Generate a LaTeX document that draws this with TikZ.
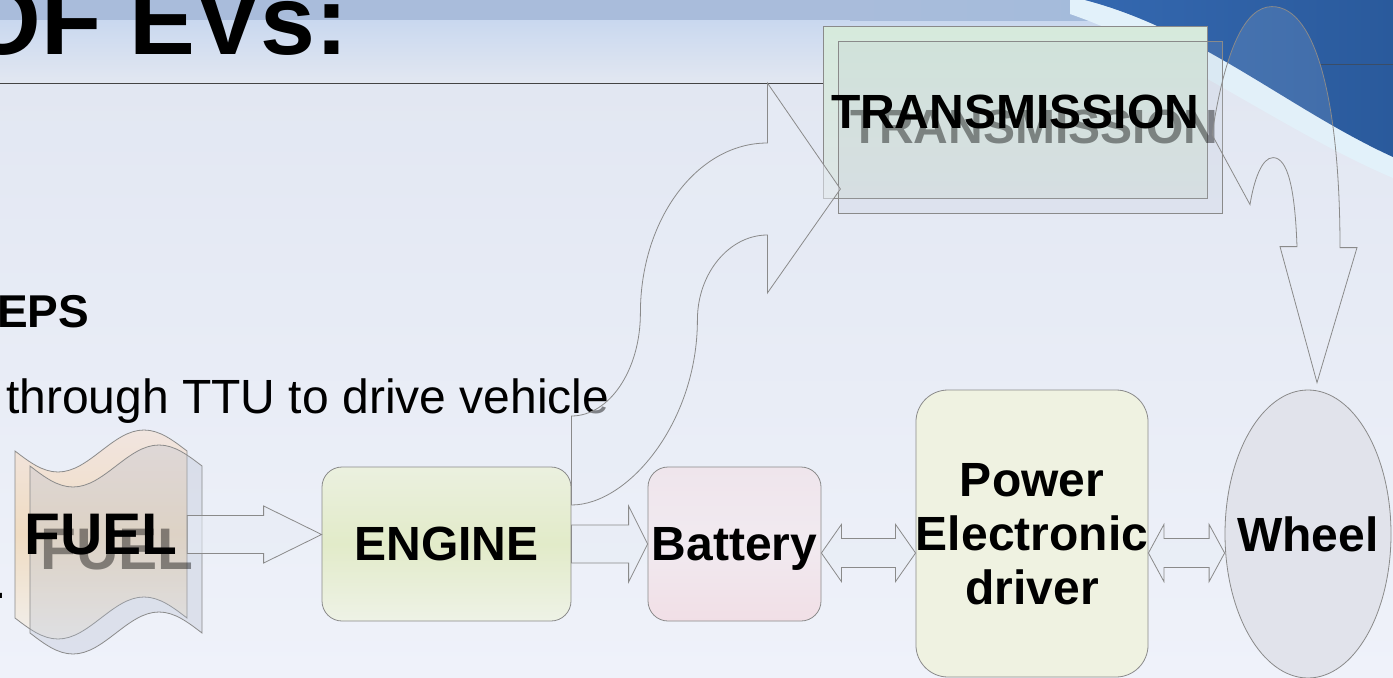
\documentclass[tikz,border=0pt]{standalone}
\usepackage{fontspec}
\setmainfont{Liberation Sans}
\usetikzlibrary{calc,shapes.geometric}

\definecolor{linegray}{HTML}{8A8A8A}
\definecolor{flowfill}{HTML}{E8EDF6}
\definecolor{bandblue}{HTML}{A9BCDB}
\definecolor{headtop}{HTML}{C9D8EF}
\definecolor{headbottom}{HTML}{E2E7F1}
\definecolor{bgtop}{HTML}{E2E7F2}
\definecolor{bgbottom}{HTML}{EFF2FA}
\definecolor{swoosh}{HTML}{2A5A9C}
\definecolor{swooshlight}{HTML}{3468B0}
\definecolor{glow}{HTML}{E2F1FA}
\definecolor{rulegray}{HTML}{444444}
\definecolor{copyfill}{HTML}{B3BCCD}
\definecolor{fueltop}{HTML}{F1E5E0}
\definecolor{fuelmid}{HTML}{F0DCC2}
\definecolor{fuelbottom}{HTML}{F1EFEC}
\definecolor{enginetop}{HTML}{EBF0DF}
\definecolor{enginemid}{HTML}{E2EBC9}
\definecolor{enginebottom}{HTML}{EEF2E6}
\definecolor{batterytop}{HTML}{EFE5EC}
\definecolor{batterymid}{HTML}{F1EAF0}
\definecolor{batterybottom}{HTML}{F1DFE6}
\definecolor{powerfill}{HTML}{EFF2E1}
\definecolor{wheelfill}{HTML}{E1E3EB}
\definecolor{transtop}{HTML}{D6EADC}
\definecolor{transbottom}{HTML}{DDE5E6}

\tikzset{
    box/.style={draw=linegray, line width=0.6pt, rounded corners=15pt, align=center,
        inner sep=0pt, text depth=0pt, font=\bfseries\fontsize{36}{40.5}\selectfont},
    transbox/.style={draw=linegray, line width=0.6pt, inner sep=0pt,
        minimum width=288pt, minimum height=129pt},
    copybox/.style={transbox, fill=copyfill, fill opacity=0.15},
    boxtext/.style={inner sep=0pt, font=\bfseries\fontsize{36}{40.5}\selectfont},
    fueltext/.style={inner sep=0pt, font=\bfseries\fontsize{44}{50}\selectfont},
    shadetext/.style={text opacity=0.42},
    slidetext/.style={inner sep=0pt, font=\fontsize{36}{43}\selectfont},
    fueltape/.style={draw=linegray, line width=0.6pt, top color=fueltop,
        bottom color=fuelbottom, middle color=fuelmid},
    fuelcopy/.style={draw=linegray, line width=0.6pt, fill=copyfill, fill opacity=0.3},
    flow/.style={draw=linegray, line width=0.6pt, fill=flowfill, fill opacity=0.55},
    blockarrow/.style n args={3}{to path={
        let \p1=(\tikztostart), \p2=(\tikztotarget) in
        (\x1,\y1+#1) -- (\x2-#3,\y1+#1) -- (\x2-#3,\y1+#2) -- (\x2,\y1)
        -- (\x2-#3,\y1-#2) -- (\x2-#3,\y1-#1) -- (\x1,\y1-#1) -- cycle}},
    twoway/.style n args={3}{to path={
        let \p1=(\tikztostart), \p2=(\tikztotarget) in
        (\x1,\y1) -- (\x1+#3,\y1+#2) -- (\x1+#3,\y1+#1) -- (\x2-#3,\y1+#1)
        -- (\x2-#3,\y1+#2) -- (\x2,\y1) -- (\x2-#3,\y1-#2) -- (\x2-#3,\y1-#1)
        -- (\x1+#3,\y1-#1) -- (\x1+#3,\y1-#2) -- cycle}}
}

\begin{document}
\begin{tikzpicture}[x=0.75pt, y=-0.75pt]
    \useasboundingbox (0,0) rectangle (1393,678);
    \clip (0,0) rectangle (1393,678);
    % slide background
    \shade[top color=bgtop, bottom color=bgbottom] (0,83) rectangle (1393,678);
    \shade[top color=headtop, bottom color=headbottom] (0,20) rectangle (1393,83);
    \fill[bandblue] (0,0) rectangle (1393,20);
    \shade[left color=bandblue, right color=swooshlight!45] (850,0) rectangle (1100,20);
    \fill[glow] (1085,0) .. controls (1200,30) and (1290,110) .. (1393,157)
        -- (1393,178) .. controls (1285,132) and (1180,52) .. (1070,14) -- (1070,0) -- cycle;
    \shade[left color=swooshlight, right color=swoosh] (1085,0)
        .. controls (1200,30) and (1290,110) .. (1393,157) -- (1393,0) -- cycle;
    \draw[rulegray!60!swoosh, line width=0.75pt] (1320,64) -- (1393,64);
    \draw[rulegray, line width=0.75pt] (0,83) -- (823,83);

    % slide text
    \node[slidetext, font=\bfseries\fontsize{74}{80}\selectfont, anchor=base east]
        (title) at (349,55) {OF EVs:};
    \node[slidetext, font=\bfseries\fontsize{34.5}{40}\selectfont, anchor=base west]
        (steps) at (-3,327) {EPS};
    \node[slidetext, anchor=base west] (ttu) at (6,413) {through TTU to drive vehicle};
    \node[slidetext, anchor=base west] (dot) at (-7,598) {.};

    % blocks
    \node[minimum width=129pt, minimum height=125.25pt, inner sep=0pt] (fuel) at (101,534.5) {};
    \draw[fueltape, shift={(fuel.center)}] (-86,-83.5) sin (-43,-62.5) cos (0,-83.5)
        sin (43,-104.5) cos (86,-83.5) -- (86,83.5) sin (43,62.5) cos (0,83.5)
        sin (-43,104.5) cos (-86,83.5) -- cycle;
    \draw[fuelcopy, shift={($(fuel.center)+(15,15)$)}] (-86,-83.5) sin (-43,-62.5) cos (0,-83.5)
        sin (43,-104.5) cos (86,-83.5) -- (86,83.5) sin (43,62.5) cos (0,83.5)
        sin (-43,104.5) cos (-86,83.5) -- cycle;
    \node[fueltext, shadetext] (fuel-shade) at ($(fuel)+(16,15)$) {FUEL};
    \node[fueltext] (fuel-label) at (fuel) {FUEL};

    \node[box, minimum width=186.75pt, minimum height=115.5pt, top color=enginetop,
        bottom color=enginebottom, middle color=enginemid] (engine) at (446.5,544) {ENGINE};
    \node[box, minimum width=129.75pt, minimum height=115.5pt, top color=batterytop,
        bottom color=batterybottom, middle color=batterymid] (battery) at (734.5,544) {Battery};
    \node[box, rounded corners=24pt, minimum width=172.5pt, minimum height=215.25pt,
        fill=powerfill] (power) at (1032,533.5) {Power\\Electronic\\driver};
    \node[box, ellipse, sharp corners, minimum width=124.5pt, minimum height=216pt,
        fill=wheelfill] (wheel) at (1308,534) {\makebox[0pt]{Wheel}};

    \node[transbox, top color=transtop, bottom color=transbottom] (transmission) at (1015,112) {};
    \node[copybox] (transmission-copy) at ($(transmission)+(15,15.5)$) {};
    \node[boxtext, shadetext] (transmission-shade) at ($(transmission)+(19,15)$) {TRANSMISSION};
    \node[boxtext] (transmission-label) at (transmission) {TRANSMISSION};

    % flows
    \draw[flow, blockarrow={14.25pt}{21.4pt}{43.5pt}] (fuel.east) to (engine.west);
    \draw[flow, blockarrow={14.25pt}{28.5pt}{14.25pt}] (engine.east) to (battery.west);
    \draw[flow, twoway={10.9pt}{21.4pt}{15pt}] ($(battery.east)+(0,9)$) to (power.west);
    \draw[flow, twoway={10.9pt}{21.4pt}{11.6pt}] ($(power.east)+(0,19.5)$) to (wheel.west);
    \draw[flow, shift={(engine.east)}] (0,-128) .. controls (38,-128) and (69,-174) .. (69,-231)
        .. controls (69,-325) and (126,-401) .. (196,-401) -- (196,-461) -- (269,-355)
        -- (196,-251) -- (196,-309) .. controls (158,-309) and (126,-271) .. (126,-224)
        .. controls (126,-122) and (57,-39) .. (0,-39) -- cycle;
    \draw[flow, fill opacity=0.12, shift={(wheel.north)}] (-96,-255) .. controls (-83,-340) and (-63,-383) .. (-36,-383)
        .. controls (10,-383) and (32,-280) .. (32,-142) -- (49,-142) -- (9,-7) -- (-28,-143)
        -- (-11,-143) .. controls (-13,-200) and (-20,-232) .. (-35,-232)
        .. controls (-46,-232) and (-54,-210) .. (-58,-185) -- cycle;
\end{tikzpicture}
\end{document}
